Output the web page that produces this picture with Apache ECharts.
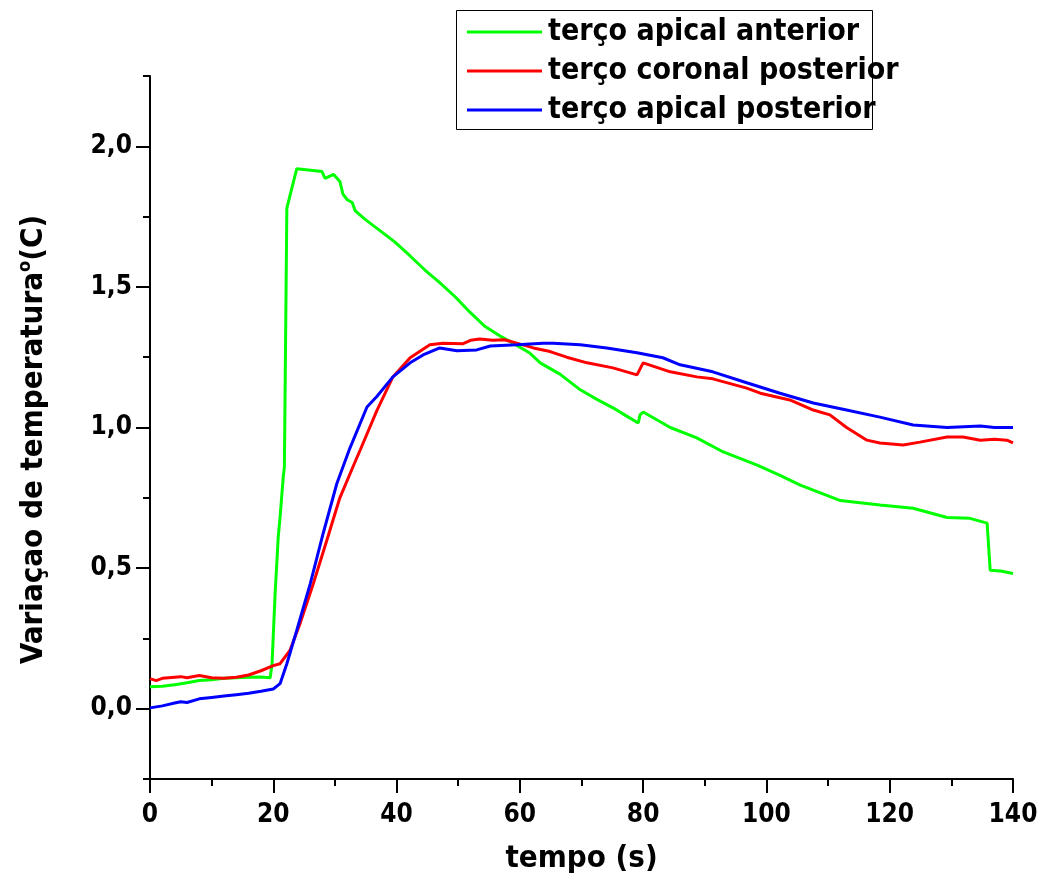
<!DOCTYPE html>
<html>
<head>
<meta charset="utf-8">
<script src="https://cdn.jsdelivr.net/npm/echarts@6/dist/echarts.min.js"></script>
<style>html,body{margin:0;padding:0;background:#fff;}#c{width:1046px;height:884px;}</style>
</head>
<body>
<div id="c"></div>
<script>
const seriesNames = ['terço apical anterior', 'terço coronal posterior', 'terço apical posterior'];
const xTickLabels = [0, 20, 40, 60, 80, 100, 120, 140];
const yTickLabels = [0, 0.5, 1.0, 1.5, 2.0];
const yMinorTicks = [-0.25, 0.25, 0.75, 1.25, 1.75, 2.25];

const greenT = [0,2,4,6,8,10,12,14,16,18,19.5,19.8,20.3,20.8,21.1,21.6,21.8,22.2,23.8,27.9,28.4,29.8,30.8,31.3,32,32.8,33.3,34.9,37.3,39.7,42.2,44.6,47,49.5,51.9,54.3,56.8,58.9,61.6,63.3,66.5,69.8,72.5,75.1,77,79.2,79.5,80,82,84.4,88.7,93,98.5,102.2,105.5,107.6,112,118.4,123.8,129.3,133,135.8,136.3,138,140];
const greenV = [0.078,0.08,0.085,0.092,0.1,0.103,0.108,0.11,0.112,0.113,0.11,0.16,0.41,0.61,0.68,0.82,0.86,1.78,1.92,1.91,1.886,1.9,1.875,1.83,1.81,1.8,1.77,1.74,1.7,1.66,1.61,1.56,1.515,1.465,1.41,1.36,1.325,1.3,1.265,1.23,1.19,1.134,1.1,1.07,1.045,1.016,1.045,1.055,1.03,1.0,0.963,0.913,0.866,0.83,0.795,0.777,0.74,0.724,0.713,0.68,0.677,0.66,0.492,0.49,0.481];

const redT = [0,1,2,4,5,6,8,10,12,14,16,18,20,21.1,22.7,24.3,26.5,28.7,30.8,33.6,34.1,36.8,39.4,42.2,45.4,47.5,50.8,52,53.5,55.6,57.5,59.5,62.2,64.9,67.6,70.9,75.1,79,80,84.4,88.7,91.3,96.8,99,103.8,107.6,110.3,113,116.3,118.4,122.2,124.9,129.3,131.9,134.7,137,139,140];
const redV = [0.107,0.1,0.108,0.112,0.114,0.11,0.118,0.11,0.108,0.112,0.12,0.135,0.153,0.16,0.207,0.3,0.445,0.6,0.75,0.895,0.92,1.06,1.18,1.248,1.294,1.3,1.298,1.31,1.315,1.31,1.312,1.3,1.283,1.27,1.25,1.23,1.212,1.187,1.23,1.198,1.18,1.173,1.14,1.122,1.098,1.062,1.045,1.0,0.955,0.945,0.938,0.948,0.966,0.966,0.955,0.958,0.955,0.945];

const blueT = [0,2,4,5,6,8,10,12,14,16,18,20,21.1,22.2,23.8,26,28.1,30.3,32.4,35.2,36.8,39.4,42.2,44.3,47,49.8,53,55.2,59.5,63.8,65.4,69.8,74.1,79,83.2,86,91.3,96.8,102.2,107.6,113,118.4,123.8,129.3,134.7,137,140];
const blueV = [0.003,0.01,0.02,0.025,0.022,0.035,0.04,0.045,0.05,0.055,0.062,0.07,0.089,0.16,0.278,0.445,0.624,0.8,0.925,1.073,1.11,1.18,1.23,1.258,1.283,1.273,1.276,1.29,1.294,1.3,1.3,1.294,1.283,1.266,1.248,1.223,1.198,1.159,1.122,1.087,1.062,1.037,1.009,1.0,1.005,1.0,1.0];

const pair = (t, v) => t.map((x, i) => [x, v[i]]);
const FONT = '"DejaVu Sans Condensed", "DejaVu Sans", sans-serif';
const fmt = v => v.toFixed(1).replace('.', ',');

const chart = echarts.init(document.getElementById('c'), null, {renderer: 'canvas'});
chart.setOption({
  animation: false,
  backgroundColor: '#fff',
  grid: {left: 150, right: 33, top: 76, bottom: 105, containLabel: false},
  graphic: [{
    type: 'rect', left: 454, top: 8, z: 0,
    shape: {width: 416, height: 119},
    style: {fill: 'none', stroke: '#000', lineWidth: 1}
  }],
  legend: {
    orient: 'vertical', left: 462, top: 12, itemWidth: 75, itemHeight: 14, itemGap: 9,
    icon: 'path://M0,6 L75,6 L75,9 L0,9 Z',
    textStyle: {fontFamily: FONT, fontWeight: 'bold', fontSize: 30, color: '#000', lineHeight: 30, padding: [0,0,0,1]},
    data: seriesNames
  },
  xAxis: {
    type: 'value', min: 0, max: 140, interval: 20,
    name: 'tempo (s)', nameLocation: 'middle', nameGap: 64,
    nameTextStyle: {fontFamily: FONT, fontWeight: 'bold', fontSize: 31, color: '#000'},
    axisLine: {show: true, onZero: false, lineStyle: {color: '#000', width: 2}},
    axisTick: {show: true, inside: false, length: 14, lineStyle: {color: '#000', width: 2}},
    minorTick: {show: true, splitNumber: 2, length: 7, lineStyle: {color: '#000', width: 2}},
    axisLabel: {fontFamily: FONT, fontWeight: 'bold', fontSize: 26, color: '#000', margin: 23,
      customValues: xTickLabels},
    splitLine: {show: false}
  },
  yAxis: [{
    type: 'value', min: -0.25, max: 2.25,
    name: '{a|Variaçao de temperatura}{s|o}{a|(C)}', nameLocation: 'middle', nameGap: 98, nameRotate: 90,
    nameTextStyle: {padding: [0, 24, 0, 0], rich: {
      a: {fontFamily: FONT, fontWeight: 'bold', fontSize: 31, color: '#000'},
      s: {fontFamily: FONT, fontWeight: 'bold', fontSize: 18, color: '#000', verticalAlign: 'top', padding: [0,0,18,0]}
    }},
    axisLine: {show: true, onZero: false, lineStyle: {color: '#000', width: 2}},
    axisTick: {show: true, inside: false, length: 14, lineStyle: {color: '#000', width: 2}, customValues: yTickLabels},
    axisLabel: {fontFamily: FONT, fontWeight: 'bold', fontSize: 26, color: '#000', margin: 18,
      customValues: yTickLabels, formatter: v => fmt(v)},
    splitLine: {show: false}
  }, {
    type: 'value', min: -0.25, max: 2.25, position: 'left',
    axisLine: {show: false},
    axisTick: {show: true, inside: false, length: 7, lineStyle: {color: '#000', width: 2}, customValues: yMinorTicks},
    axisLabel: {show: false},
    splitLine: {show: false}
  }],
  series: [
    {name: seriesNames[0], type: 'line', data: pair(greenT, greenV), symbol: 'none', lineStyle: {color: '#00ff00', width: 3}, itemStyle: {color: '#00ff00'}},
    {name: seriesNames[1], type: 'line', data: pair(redT, redV), symbol: 'none', lineStyle: {color: '#ff0000', width: 3}, itemStyle: {color: '#ff0000'}},
    {name: seriesNames[2], type: 'line', data: pair(blueT, blueV), symbol: 'none', lineStyle: {color: '#0000ff', width: 3}, itemStyle: {color: '#0000ff'}}
  ]
});
</script>
</body>
</html>
